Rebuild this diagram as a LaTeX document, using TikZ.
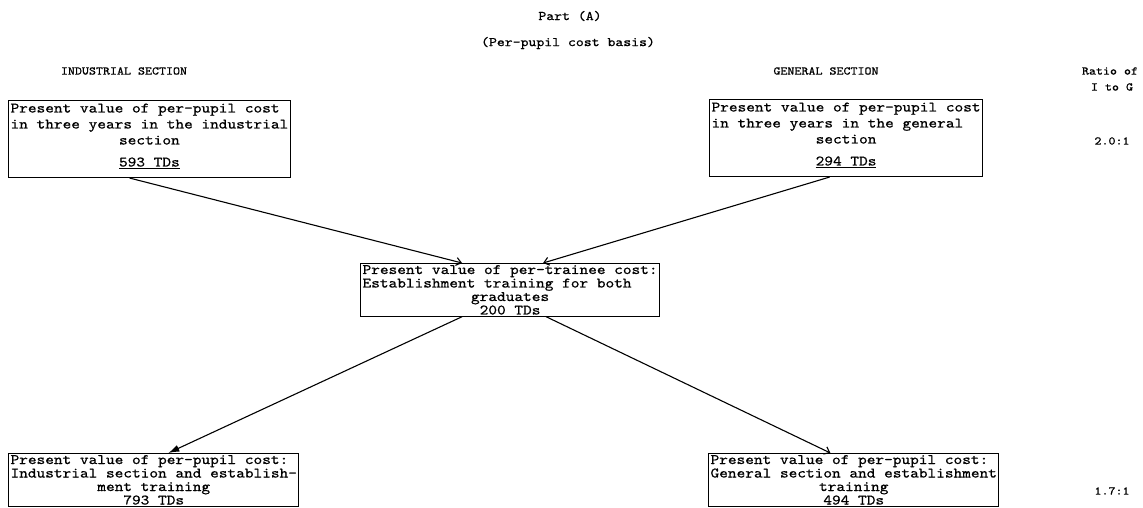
\documentclass[tikz,border=0pt]{standalone}
\usepackage{fontspec}
\usetikzlibrary{arrows.meta,calc}
% wide typewriter face, slightly emboldened
\newfontfamily\tw{lmmono10-regular.otf}[FakeBold=0.7,FakeStretch=1.14]
\begin{document}
\begin{tikzpicture}[x=1pt,y=-1pt,
  boxbase/.style={draw,line width=1.1pt,align=center,inner xsep=2pt,anchor=north west},
  tallbox/.style={boxbase,inner ysep=3pt,font=\fontsize{14.5}{16}\selectfont\tw},
  flatbox/.style={boxbase,inner ysep=1.5pt,font=\fontsize{14.5}{13.5}\selectfont\tw},
  hdr/.style={font=\fontsize{11.7}{15}\selectfont\tw,inner sep=0pt},
  ttl/.style={font=\fontsize{13.2}{16}\selectfont\tw,inner sep=0pt},
  flow/.style={line width=1.1pt,-{Straight Barb[length=5pt,width=8pt]}},
  heavy/.style={line width=1.1pt,-{Latex[length=11pt,width=7pt]}},
  ]
\useasboundingbox (0,0) rectangle (1143,508);
\fill[white] (0,0) rectangle (1143,508);

% headings
\node[ttl] (part) at (570,16) {Part (A)};
\node[ttl] (basis) at (568,43) {(Per-pupil cost basis)};
\node[hdr] (ihead) at (124,71) {INDUSTRIAL SECTION};
\node[hdr] (ghead) at (826,71) {GENERAL SECTION};
\node[hdr] (ratio1) at (1110,71) {Ratio of};
\node[hdr] (ratio2) at (1112,87) {I to G};
\node[hdr] (r1) at (1112,141) {2.0:1};
\node[hdr] (r2) at (1112,491) {1.7:1};

% cost boxes
\node[tallbox] (ind) at (8,100) {Present value of per-pupil cost\phantom{x}\\
  in three years in the industrial\\ section\\[6pt]
  \underline{593 TDs}\rule[-8pt]{0pt}{0pt}};
\node[tallbox] (gen) at (709,99) {Present value of per-pupil cost\\
  in three years in the general\phantom{xx}\\ section\\[6pt]
  \underline{294 TDs}\rule[-8pt]{0pt}{0pt}};
\node[flatbox] (est) at (360,263) {Present value of per-trainee cost:\\
  Establishment training for both\phantom{xxx}\\ graduates\\ 200 TDs};
\node[flatbox] (indT) at (8,453) {Present value of per-pupil cost:\phantom{x}\\
  Industrial section and establish-\\ ment training\\ 793 TDs};
\node[flatbox] (genT) at (708,453) {Present value of per-pupil cost:\phantom{x}\\
  General section and establishment\\ training\\ 494 TDs};

% flows
\draw[flow] ($(ind.south west)!0.43!(ind.south east)$) -- ($(est.north west)!0.34!(est.north east)$);
\draw[flow] ($(gen.south west)!0.44!(gen.south east)$) -- ($(est.north west)!0.61!(est.north east)$);
\draw[heavy] ($(est.south west)!0.34!(est.south east)$) -- ($(indT.north west)!0.55!(indT.north east)$);
\draw[flow] ($(est.south west)!0.62!(est.south east)$) -- ($(genT.north west)!0.42!(genT.north east)$);
\end{tikzpicture}
\end{document}
